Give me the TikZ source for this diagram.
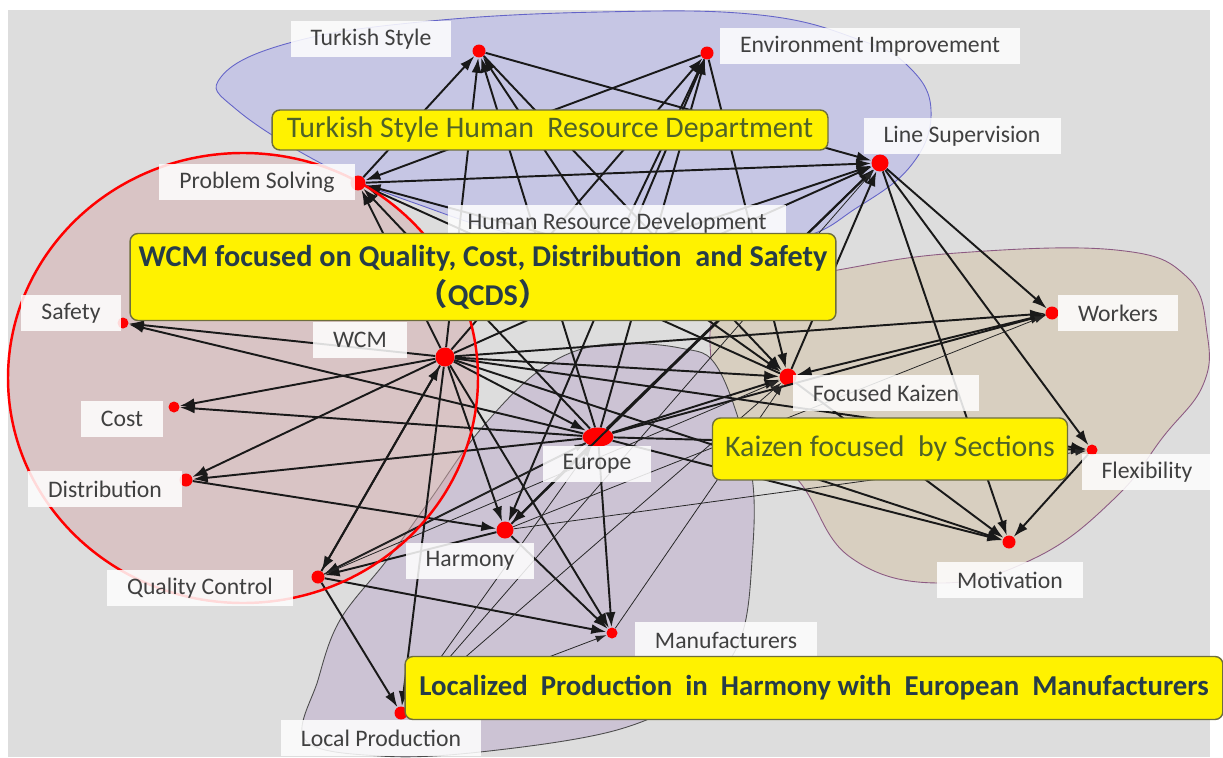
\documentclass[tikz,border=0pt]{standalone}
\usepackage{fontspec}
\setmainfont{Carlito}
\newfontfamily\cjkfont{Noto Sans CJK SC}
\usetikzlibrary{arrows.meta,shapes.geometric}

\definecolor{bggray}{RGB}{221,221,221}
\definecolor{hrblue}{RGB}{198,198,228}
\definecolor{hrline}{RGB}{100,100,200}
\definecolor{kztan}{RGB}{216,207,192}
\definecolor{kzline}{RGB}{140,90,130}
\definecolor{lppurple}{RGB}{204,195,212}
\definecolor{qcpink}{RGB}{214,172,174}
\definecolor{olivetext}{RGB}{79,98,40}
\definecolor{slatetext}{RGB}{38,60,72}
\definecolor{labeltext}{RGB}{64,64,64}
\definecolor{boxline}{RGB}{110,110,60}

\tikzset{
  vertex/.style={circle,fill=red,draw=none,inner sep=0pt,minimum size=#1},
  vertex/.default=0.26cm,
  nodetag/.style={fill=white,fill opacity=0.85,text opacity=1,text=labeltext,
    inner xsep=0.4cm,minimum height=0.72cm,font=\fontsize{13.5}{15}\selectfont},
  themebox/.style={fill=yellow,draw=boxline,line width=0.8pt,rounded corners=4.5pt,
    align=center,inner sep=0pt},
  link/.style={-{Latex[length=3mm,width=2mm]},line width=1.1pt,black!90},
  faint/.style={-{Latex[length=2.2mm,width=1.4mm]},line width=0.45pt,black!85},
}

\begin{document}
\begin{tikzpicture}[x=0.02cm,y=-0.02cm]
\useasboundingbox (0,0) rectangle (1223,757);
\fill[bggray] (8,10) rectangle (1210,757);

% group areas
\filldraw[fill=hrblue,draw=hrline,line width=0.5pt] plot[smooth cycle,tension=0.7] coordinates
  {(221,77) (289,43) (420,22) (600,12) (760,15) (860,40) (909,67) (931,110) (913,163)
   (858,207) (790,240) (650,250) (520,235) (420,205) (328,167) (237,110)};
\filldraw[fill=kztan,draw=kzline,line width=0.5pt] plot[smooth cycle,tension=0.7] coordinates
  {(731,293) (838,270) (957,253) (1116,250) (1187,277) (1207,333) (1203,385) (1163,437)
   (1116,497) (1037,557) (941,583) (850,557) (798,480) (740,430) (711,360)};
\filldraw[fill=lppurple,draw=black!70,line width=0.5pt] plot[smooth cycle,tension=0.6] coordinates
  {(719,370) (680,348) (600,345) (540,370) (480,430) (430,500) (387,560) (340,620)
   (318,680) (305,740) (380,756) (480,752) (617,730) (700,690) (740,640) (752,560) (751,470)};
\fill[qcpink,fill opacity=0.5] (243,378) ellipse[x radius=235,y radius=225];

% vertices
\node[vertex] (ts) at (479,51) {};
\node[vertex] (env) at (707,53) {};
\node[vertex=0.34cm] (ls) at (880,163) {};
\node[vertex=0.3cm] (ps) at (358,183) {};
\node[vertex=0.2cm] (hrd) at (612,252) {};
\node[vertex=0.22cm] (saf) at (123,323) {};
\node[vertex=0.38cm] (wcm) at (445,357) {};
\node[vertex=0.22cm] (cost) at (174,407) {};
\node[vertex] (dist) at (186,480) {};
\node[vertex=0.38cm,ellipse,minimum width=0.62cm] (eur) at (598,437) {};
\node[vertex=0.34cm] (fk) at (788,377) {};
\node[vertex] (wk) at (1052,313) {};
\node[vertex=0.22cm] (flex) at (1092,450) {};
\node[vertex] (mot) at (1009,542) {};
\node[vertex=0.34cm] (har) at (505,530) {};
\node[vertex] (qc) at (318,577) {};
\node[vertex=0.22cm] (man) at (612,633) {};
\node[vertex] (lp) at (401,713) {};

% connections
\foreach \a/\b in {ps/ts,hrd/ts,wcm/ts,eur/ts,ts/ls,ts/fk,
    env/ps,hrd/env,wcm/env,eur/env,env/fk,env/har,
    ps/ls,hrd/ls,wcm/ls,eur/ls,fk/ls,har/ls,ls/wk,ls/mot,ls/flex,
    hrd/ps,wcm/ps,eur/ps,fk/ps,
    wcm/saf,eur/saf,wcm/cost,eur/cost,wcm/dist,eur/dist,dist/har,
    wcm/qc,har/qc,eur/qc,qc/man,qc/lp,qc/wcm,
    wcm/lp,wcm/har,eur/har,har/man,wcm/man,eur/man,
    wcm/eur,wcm/fk,eur/fk,hrd/fk,wk/fk,
    wcm/wk,eur/wk,wcm/flex,eur/flex,flex/mot,fk/mot,eur/mot,wcm/mot}
  \draw[link] (\a) -- (\b);
\foreach \a/\b in {lp/eur,lp/fk,har/flex,qc/eur,qc/fk,lp/man,har/wk,man/fk,lp/ls}
  \draw[faint] (\a) -- (\b);

\draw[red,line width=1.4pt] (243,378) ellipse[x radius=235,y radius=225];

% labels
\node[nodetag] (ts-l) at (371,39) {Turkish Style};
\node[nodetag] (env-l) at (870,46) {Environment Improvement};
\node[nodetag] (ls-l) at (962,136) {Line Supervision};
\node[nodetag] (ps-l) at (257,182) {Problem Solving};
\node[nodetag] (hrd-l) at (617,223) {Human Resource Development};
\node[nodetag] (saf-l) at (71,313) {Safety};
\node[nodetag] (wcm-l) at (360,340) {WCM};
\node[nodetag] (cost-l) at (122,419) {Cost};
\node[nodetag] (dist-l) at (105,489) {Distribution};
\node[nodetag] (eur-l) at (597,464) {Europe};
\node[nodetag] (fk-l) at (886,393) {Focused Kaizen};
\node[nodetag] (wk-l) at (1118,313) {Workers};
\node[nodetag] (flex-l) at (1147,472) {Flexibility};
\node[nodetag] (mot-l) at (1010,580) {Motivation};
\node[nodetag] (har-l) at (470,561) {Harmony};
\node[nodetag] (qc-l) at (200,588) {Quality Control};
\node[nodetag] (man-l) at (726,640) {Manufacturers};
\node[nodetag] (lp-l) at (381,738) {Local Production};

% themes
\node[themebox,minimum width=11.12cm,minimum height=0.8cm,text=olivetext,
  font=\fontsize{17}{19}\selectfont] (hrdept) at (550,130)
  {Turkish Style Human\ \ Resource Department};
\node[themebox,minimum width=14.12cm,minimum height=1.74cm,text=slatetext,
  font=\bfseries\fontsize{17.2}{22}\selectfont] (qcds) at (483,277)
  {WCM focused on Quality, Cost, Distribution\ \ and Safety\\{\cjkfont （}QCDS{\cjkfont ）}};
\node[themebox,minimum width=7.1cm,minimum height=1.24cm,text=olivetext,
  font=\fontsize{17}{19}\selectfont] (kzsec) at (890,449)
  {Kaizen focused\ \ by Sections};
\node[themebox,minimum width=16.36cm,minimum height=1.26cm,text=slatetext,
  font=\bfseries\fontsize{16.4}{19}\selectfont] (lochar) at (814,688)
  {Localized\ \ Production\ \ in\ \ Harmony with\ \ European\ \ Manufacturers};
\end{tikzpicture}
\end{document}
